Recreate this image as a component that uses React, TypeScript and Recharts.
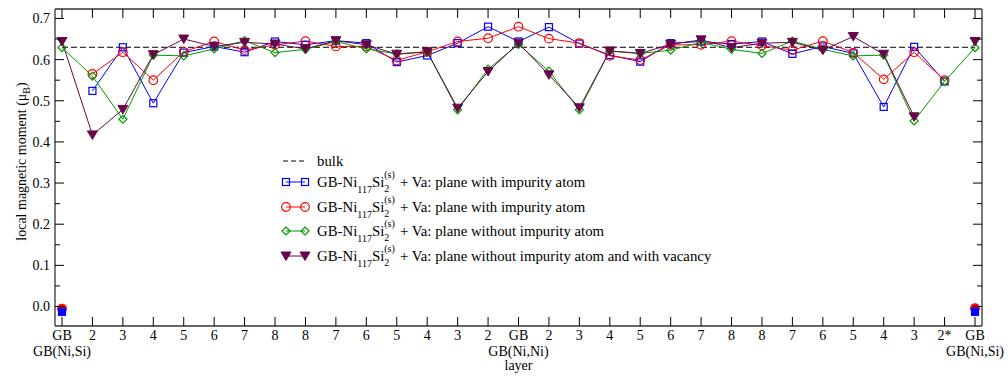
import React from 'react';
import { LineChart, Line, XAxis, YAxis, Legend } from 'recharts';

const FONT = '"Liberation Serif", "Times New Roman", serif';

const layerLabels = ['GB', '2', '3', '4', '5', '6', '7', '8', '8', '7', '6', '5', '4', '3', '2', 'GB', '2', '3', '4', '5', '6', '7', '8', '8', '7', '6', '5', '4', '3', '2*', 'GB'];
const gbIndices = [0, 15, 30];
const gbLabels = ['GB(Ni,Si)', 'GB(Ni,Ni)', 'GB(Ni,Si)'];

const bulkValue = 0.63;

const blueVals = [null, 0.524, 0.630, 0.494, 0.617, 0.632, 0.618, 0.644, 0.636, 0.646, 0.640, 0.594, 0.610, 0.640, 0.680, 0.644, 0.679, 0.639, 0.611, 0.595, 0.640, 0.644, 0.638, 0.644, 0.614, 0.632, 0.615, 0.485, 0.631, 0.547, null];
const redVals = [null, 0.565, 0.618, 0.550, 0.619, 0.644, 0.623, 0.636, 0.645, 0.632, 0.632, 0.598, 0.619, 0.644, 0.652, 0.680, 0.651, 0.640, 0.609, 0.599, 0.636, 0.636, 0.645, 0.634, 0.623, 0.645, 0.617, 0.552, 0.618, 0.550, null];
const greenVals = [0.629, 0.560, 0.455, 0.611, 0.609, 0.626, 0.646, 0.617, 0.625, 0.644, 0.626, 0.614, 0.619, 0.478, 0.577, 0.637, 0.572, 0.478, 0.621, 0.615, 0.623, 0.642, 0.625, 0.615, 0.645, 0.625, 0.609, 0.611, 0.451, 0.547, 0.629];
const maroonVals = [0.644, 0.417, 0.479, 0.612, 0.650, 0.632, 0.642, 0.638, 0.626, 0.646, 0.636, 0.613, 0.619, 0.482, 0.571, 0.640, 0.563, 0.483, 0.621, 0.615, 0.637, 0.648, 0.629, 0.640, 0.642, 0.623, 0.656, 0.613, 0.461, null, 0.644];

// filled markers at the GB(Ni,Si) planes
const siteIndices = [0, 30];
const blueSiteVals = [-0.013, -0.013];
const redSiteVals = [-0.005, -0.004];

const yTicks = [0, 0.05, 0.1, 0.15, 0.2, 0.25, 0.3, 0.35, 0.4, 0.45, 0.5, 0.55, 0.6, 0.65, 0.7];
const xTicks = layerLabels.map((_, i) => i);

const BLUE = '#0000ff';
const RED = '#ff0000';
const GREEN = '#009a00';
const MAROON = '#670748';
const FRAME = '#333';

const data = layerLabels.map((label, i) => {
  const si = siteIndices.indexOf(i);
  return {
    x: i,
    label,
    bulk: bulkValue,
    blue: blueVals[i],
    red: redVals[i],
    green: greenVals[i],
    maroon: maroonVals[i],
    blueSite: si >= 0 ? blueSiteVals[si] : null,
    redSite: si >= 0 ? redSiteVals[si] : null,
  };
});

const Square = ({ cx, cy, color, filled }: any) => (
  <rect x={cx - 3.5} y={cy - 3.5} width={7} height={7} fill={filled ? color : 'none'} stroke={color} strokeWidth={1.2} />
);
const Circle = ({ cx, cy, color, filled }: any) => (
  <circle cx={cx} cy={cy} r={4.3} fill={filled ? color : 'none'} stroke={color} strokeWidth={1.2} />
);
const Diamond = ({ cx, cy, color }: any) => (
  <polygon points={`${cx},${cy - 4} ${cx + 4},${cy} ${cx},${cy + 4} ${cx - 4},${cy}`} fill="none" stroke={color} strokeWidth={1.2} />
);
const TriDown = ({ cx, cy, color }: any) => (
  <polygon points={`${cx - 5},${cy - 4} ${cx + 5},${cy - 4} ${cx},${cy + 4.5}`} fill={color} stroke={color} strokeWidth={1} />
);

const makeDot = (Shape: any, color: string, filled = false) => (props: any) => {
  const { cx, cy, index, value } = props;
  if (cx == null || cy == null || value == null) return <g key={`d-${index}`} />;
  return (
    <g key={`d-${index}`}>
      <Shape cx={cx} cy={cy} color={color} filled={filled} />
    </g>
  );
};

const BottomTick = (props: any) => {
  const { x, y, payload } = props;
  const i = payload.value;
  const gi = gbIndices.indexOf(i);
  return (
    <g>
      <line x1={x} y1={y} x2={x} y2={y - 9} stroke="#000" strokeWidth={1} />
      <text x={x} y={y + 14} textAnchor="middle" fontFamily={FONT} fontSize={14} fill="#000">
        {layerLabels[i]}
      </text>
      {gi >= 0 && (
        <text x={x} y={y + 30} textAnchor="middle" fontFamily={FONT} fontSize={14} fill="#000">
          {gbLabels[gi]}
        </text>
      )}
    </g>
  );
};

const TopTick = (props: any) => {
  const { x, y } = props;
  return <line x1={x} y1={y} x2={x} y2={y + 9} stroke="#000" strokeWidth={1} />;
};

const isMajor = (v: number) => Math.round(v * 100) % 10 === 0;

const LeftTick = (props: any) => {
  const { x, y, payload } = props;
  const v = payload.value;
  const major = isMajor(v);
  return (
    <g>
      <line x1={x} y1={y} x2={x + (major ? 9 : 5)} y2={y} stroke="#000" strokeWidth={1} />
      {major && (
        <text x={x - 5} y={y + 5} textAnchor="end" fontFamily={FONT} fontSize={14} fill="#000">
          {v.toFixed(1)}
        </text>
      )}
    </g>
  );
};

const RightTick = (props: any) => {
  const { x, y, payload } = props;
  const major = isMajor(payload.value);
  return <line x1={x} y1={y} x2={x - (major ? 9 : 5)} y2={y} stroke="#000" strokeWidth={1} />;
};

const YTitle = (props: any) => {
  const vb = props.viewBox || { x: 54, y: 9, width: 1, height: 317 };
  const cx = vb.x + vb.width - 29;
  const cy = vb.y + vb.height / 2 - 6;
  return (
    <text x={cx} y={cy} transform={`rotate(-90, ${cx}, ${cy})`} textAnchor="middle" fontFamily={FONT} fontSize={14} fill="#000">
      local magnetic moment (μ<tspan fontSize={10} dy={4}>B</tspan><tspan dy={-4}>)</tspan>
    </text>
  );
};

const XTitle = (props: any) => {
  const vb = props.viewBox || { x: 55, y: 326, width: 927 };
  return (
    <text x={vb.x + vb.width / 2} y={vb.y + 44} textAnchor="middle" fontFamily={FONT} fontSize={14} fill="#000">
      layer
    </text>
  );
};

const LegendSymbol = ({ Shape, color, dashed }: any) => (
  <svg width={28} height={14} style={{ display: 'block', overflow: 'visible' }}>
    {dashed ? (
      <line x1={2} y1={7} x2={24} y2={7} stroke="#000" strokeWidth={1} strokeDasharray="5 3" />
    ) : (
      <>
        <line x1={5} y1={7} x2={24} y2={7} stroke={color} strokeWidth={1} />
        <Shape cx={5} cy={7} color={color} />
        <Shape cx={24} cy={7} color={color} />
      </>
    )}
  </svg>
);

const Formula = ({ tail }: { tail: string }) => (
  <span style={{ whiteSpace: 'nowrap' }}>
    GB-Ni
    <span style={{ fontSize: 10, position: 'relative', top: 6 }}>117</span>
    Si
    <span style={{ position: 'relative', display: 'inline-block', width: 12, height: 14 }}>
      <span style={{ position: 'absolute', left: 0, top: -3, fontSize: 10, lineHeight: '10px' }}>(s)</span>
      <span style={{ position: 'absolute', left: 0, top: 11, fontSize: 10, lineHeight: '10px' }}>2</span>
    </span>
    {' + Va: ' + tail}
  </span>
);

const legendRows = [
  { Shape: Square, color: BLUE, text: 'plane with impurity atom' },
  { Shape: Circle, color: RED, text: 'plane with impurity atom' },
  { Shape: Diamond, color: GREEN, text: 'plane without impurity atom' },
  { Shape: TriDown, color: MAROON, text: 'plane without impurity atom and with vacancy' },
];

const LegendContent = () => (
  <div style={{ fontFamily: FONT, fontSize: 14.8, color: '#000', lineHeight: '14px' }}>
    <div style={{ display: 'flex', alignItems: 'center', height: 18 }}>
      <LegendSymbol dashed />
      <span style={{ marginLeft: 8 }}>bulk</span>
    </div>
    {legendRows.map((r, i) => (
      <div key={i} style={{ display: 'flex', alignItems: 'center', height: 24.5 }}>
        <LegendSymbol Shape={r.Shape} color={r.color} />
        <span style={{ marginLeft: 8 }}>
          <Formula tail={r.text} />
        </span>
      </div>
    ))}
  </div>
);

export default function App() {
  return (
    <div style={{ position: 'absolute', left: 0, top: 0, width: 1008, height: 378, background: '#fff' }}>
      <LineChart width={1008} height={378} data={data} margin={{ top: 8, right: 25, bottom: 51, left: 54 }}>
        <XAxis
          xAxisId="b"
          dataKey="x"
          type="number"
          domain={[-0.23, 30.23]}
          ticks={xTicks}
          interval={0}
          height={1}
          tickSize={0}
          tickMargin={0}
          tickLine={false}
          tick={<BottomTick />}
          axisLine={{ stroke: FRAME, strokeWidth: 1.3 }}
          allowDataOverflow
          label={<XTitle />}
        />
        <XAxis
          xAxisId="t"
          orientation="top"
          dataKey="x"
          type="number"
          domain={[-0.23, 30.23]}
          ticks={xTicks}
          interval={0}
          height={1}
          tickSize={0}
          tickMargin={0}
          tickLine={false}
          tick={<TopTick />}
          axisLine={{ stroke: FRAME, strokeWidth: 1.3 }}
          allowDataOverflow
        />
        <YAxis
          yAxisId="l"
          type="number"
          domain={[-0.0474, 0.723]}
          ticks={yTicks}
          interval={0}
          width={1}
          tickSize={0}
          tickMargin={0}
          tickLine={false}
          tick={<LeftTick />}
          axisLine={{ stroke: FRAME, strokeWidth: 1.3 }}
          allowDataOverflow
          label={<YTitle />}
        />
        <YAxis
          yAxisId="r"
          orientation="right"
          type="number"
          domain={[-0.0474, 0.723]}
          ticks={yTicks}
          interval={0}
          width={1}
          tickSize={0}
          tickMargin={0}
          tickLine={false}
          tick={<RightTick />}
          axisLine={{ stroke: FRAME, strokeWidth: 1.3 }}
          allowDataOverflow
        />
        <Legend
          layout="vertical"
          align="center"
          verticalAlign="middle"
          content={<LegendContent />}
          wrapperStyle={{ position: 'absolute', left: 281, top: 152, width: 'auto', height: 'auto' }}
        />
        <Line xAxisId="b" yAxisId="l" dataKey="bulk" stroke="#000" strokeWidth={1} strokeDasharray="6 3" dot={false} activeDot={false} isAnimationActive={false} />
        <Line xAxisId="b" yAxisId="l" dataKey="blue" stroke={BLUE} strokeWidth={1} dot={makeDot(Square, BLUE)} activeDot={false} isAnimationActive={false} />
        <Line xAxisId="b" yAxisId="l" dataKey="red" stroke={RED} strokeWidth={1} dot={makeDot(Circle, RED)} activeDot={false} isAnimationActive={false} />
        <Line xAxisId="b" yAxisId="l" dataKey="green" stroke={GREEN} strokeWidth={1} dot={makeDot(Diamond, GREEN)} activeDot={false} isAnimationActive={false} />
        <Line xAxisId="b" yAxisId="l" dataKey="maroon" stroke={MAROON} strokeWidth={1} dot={makeDot(TriDown, MAROON)} activeDot={false} isAnimationActive={false} />
        <Line xAxisId="b" yAxisId="l" dataKey="redSite" stroke="none" dot={makeDot(Circle, RED, true)} activeDot={false} isAnimationActive={false} />
        <Line xAxisId="b" yAxisId="l" dataKey="blueSite" stroke="none" dot={makeDot(Square, BLUE, true)} activeDot={false} isAnimationActive={false} />
      </LineChart>
    </div>
  );
}
